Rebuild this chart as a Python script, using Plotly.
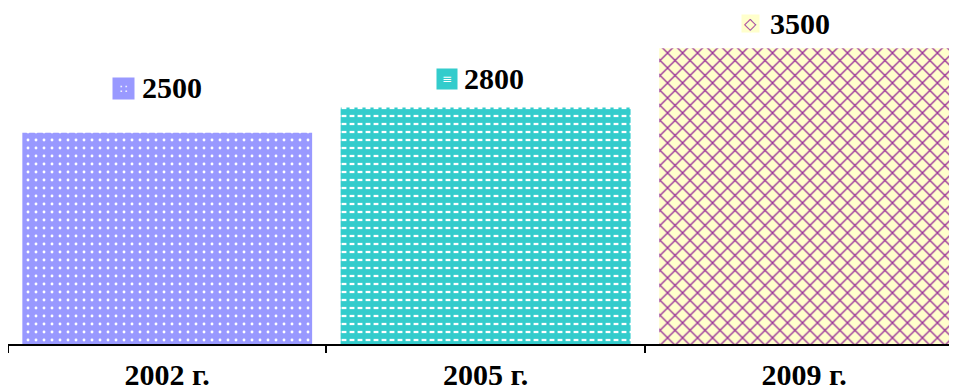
import plotly.graph_objects as go

# ---- data ----
categories = ["2002 г.", "2005 г.", "2009 г."]
values = [2500, 2800, 3500]

# ---- styles ----
bg_colors = ["#9999FF", "#33CCCC", "#FFFFCC"]
fg_colors = ["#FFFFFF", "#FFFFFF", "#993399"]
pattern_shapes = [".", "-", "x"]
pattern_sizes = [8, 8, 10.6]
pattern_solidity = [0.1, 0.28, 0.24]

key_symbols = ["∷", "≡", "◇"]
key_symbol_colors = ["#FFFFFF", "#FFFFFF", "#993399"]
key_symbol_sizes = [12, 12, 16]
key_sizes = [21, 20, 17]
# label offsets in pixels relative to the bar top centre
label_dx = [5, 8, -4.5]
label_dy = [45, 29, 25]
key_dx = [-43.5, -39, -53.5]
key_dy = [44, 28, 25]

BAR_W = 0.91
SERIF = "Liberation Serif, Times New Roman, serif"

fig = go.Figure()
for i, (c, v) in enumerate(zip(categories, values)):
    fig.add_trace(go.Bar(
        x=[c], y=[v], width=BAR_W,
        marker=dict(
            color=bg_colors[i], line=dict(width=0),
            pattern=dict(shape=pattern_shapes[i], bgcolor=bg_colors[i],
                         fgcolor=fg_colors[i], fgopacity=1, size=pattern_sizes[i],
                         solidity=pattern_solidity[i], fillmode="overlay"),
        ),
        showlegend=False, hoverinfo="x+y",
    ))
# vertical teal breaks turn the white lines of the 2nd bar into short dashes
fig.add_trace(go.Bar(
    x=[categories[1]], y=[values[1]], width=BAR_W,
    marker=dict(
        color="rgba(0,0,0,0)", line=dict(width=0),
        pattern=dict(shape="|", bgcolor="rgba(0,0,0,0)", fgcolor=bg_colors[1],
                     fgopacity=1, size=8, solidity=0.4, fillmode="replace"),
    ),
    showlegend=False, hoverinfo="skip",
))

annotations = []
for i, (c, v) in enumerate(zip(categories, values)):
    annotations.append(dict(
        x=c, y=v, xref="x", yref="y", text=f"<b>{v}</b>", showarrow=False,
        xanchor="center", yanchor="middle", xshift=label_dx[i], yshift=label_dy[i],
        font=dict(family=SERIF, size=30, color="black"),
    ))
    annotations.append(dict(
        x=c, y=v, xref="x", yref="y", text=key_symbols[i], showarrow=False,
        xanchor="center", yanchor="middle", xshift=key_dx[i], yshift=key_dy[i],
        width=key_sizes[i], height=key_sizes[i], bgcolor=bg_colors[i], borderpad=0,
        font=dict(family="DejaVu Sans", size=key_symbol_sizes[i], color=key_symbol_colors[i]),
    ))

# the page body adds an 8px offset, so the figure is 8px smaller than the window
fig.update_layout(
    width=949, height=382,
    margin=dict(l=0, r=0, t=0, b=46, autoexpand=False),
    paper_bgcolor="white", plot_bgcolor="white",
    barmode="overlay",
    annotations=annotations,
    font=dict(family=SERIF, color="black"),
)
fig.update_xaxes(
    type="category", range=[-0.5, 2.48], automargin=False,
    tickson="boundaries", ticks="outside", ticklen=7, tickwidth=1.5, tickcolor="black",
    showline=True, linecolor="black", linewidth=1.5, showgrid=False,
    ticklabelstandoff=3,
    tickfont=dict(family=SERIF, size=30, color="black", weight="bold"),
)
fig.update_yaxes(range=[0, 3976], visible=False, showgrid=False)

fig.write_html("out.html")
